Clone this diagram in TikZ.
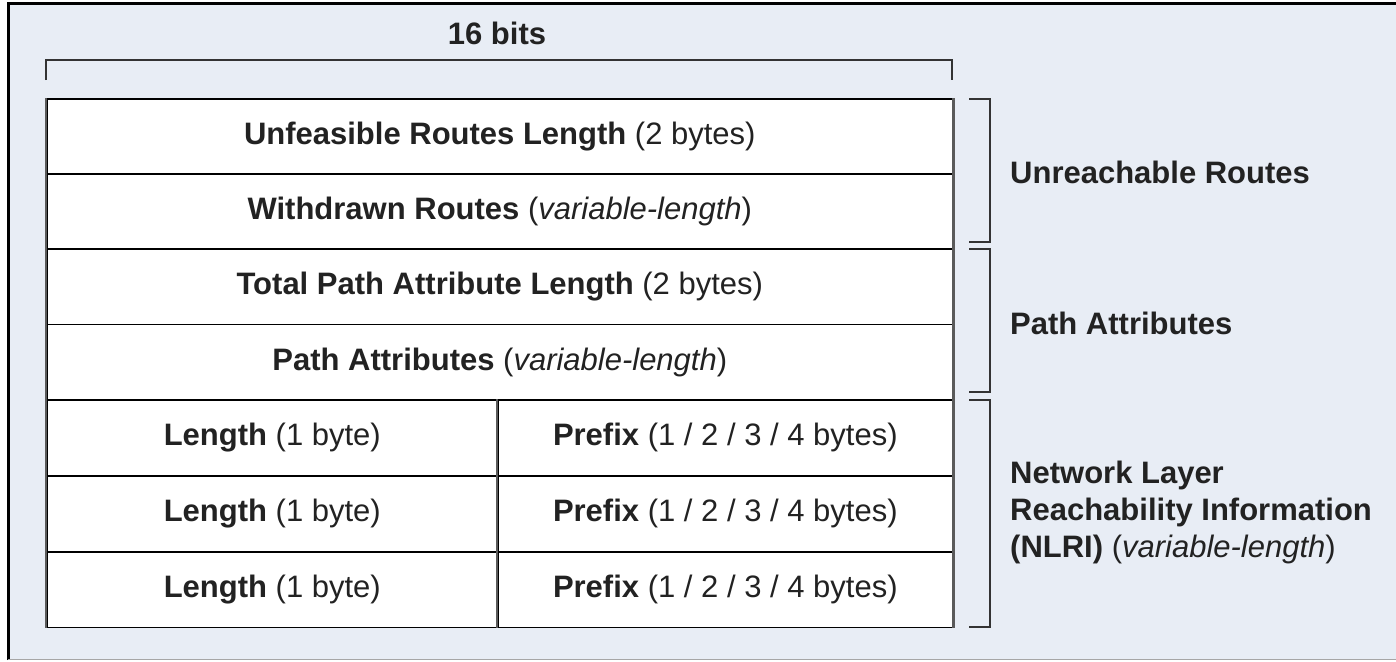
\documentclass[tikz,border=0pt]{standalone}
\usepackage{fontspec}
\setmainfont{Liberation Sans}
\definecolor{bgc}{RGB}{232,237,245}
\definecolor{txt}{RGB}{34,34,34}
\definecolor{vline}{RGB}{90,90,90}
\begin{document}
\begin{tikzpicture}[x=1pt,y=-1pt,
  every node/.style={font=\fontsize{31}{37}\selectfont, text=txt},
  cell/.style={draw=black, line width=1.6pt, fill=white, minimum height=75.5pt, inner sep=0pt, anchor=north west},
  wide/.style={cell, minimum width=906pt},
  halfl/.style={cell, minimum width=451pt},
  halfr/.style={cell, minimum width=455pt},
  brk/.style={draw=black!80, line width=2pt},
  lbl/.style={anchor=west, align=left, inner sep=0pt}]
\useasboundingbox (0,0) rectangle (1396,661);
\fill[bgc] (8,4) rectangle (1396,659);
\draw[black, line width=3pt] (8,660) -- (8,4) -- (1396,4);
\draw[gray!70, line width=1pt] (8,659) -- (1396,659);
% title
\node (title) at (497,33) {\textbf{16 bits}};
\coordinate (tl) at (46,80);
\coordinate (tr) at (952,80);
\draw[brk] (tl) -- ++(0,-20) -| (tr);
% rows
\node[wide] (r1) at (46,98) {\textbf{Unfeasible Routes Length} (2 bytes)};
\node[wide] (r2) at (46,173) {\textbf{Withdrawn Routes} (\textit{variable-length})};
\node[wide] (r3) at (46,248) {\textbf{Total Path Attribute Length} (2 bytes)};
\node[wide] (r4) at (46,323.5) {\textbf{Path Attributes} (\textit{variable-length})};
\node[halfl] (l1) at (46,399) {\textbf{Length} (1 byte)};
\node[halfr] (p1) at (497,399) {\textbf{Prefix} (1 / 2 / 3 / 4 bytes)};
\node[halfl] (l2) at (46,475) {\textbf{Length} (1 byte)};
\node[halfr] (p2) at (497,475) {\textbf{Prefix} (1 / 2 / 3 / 4 bytes)};
\node[halfl] (l3) at (46,551) {\textbf{Length} (1 byte)};
\node[halfr] (p3) at (497,551) {\textbf{Prefix} (1 / 2 / 3 / 4 bytes)};
% vertical lines in gray
\draw[vline, line width=2.6pt] (r1.north west) -- (l3.south west);
\draw[vline, line width=2.6pt] (r1.north east) -- (p3.south east);
\draw[vline, line width=2.6pt] (p1.north west) -- (p3.south west);
% right brackets
\coordinate (b1t) at (969,99);
\coordinate (b1b) at (969,242);
\coordinate (b2t) at (969,249);
\coordinate (b2b) at (969,392);
\coordinate (b3t) at (969,400);
\coordinate (b3b) at (969,627);
\draw[brk] (b1t) -- ++(21,0) |- (b1b);
\draw[brk] (b2t) -- ++(21,0) |- (b2b);
\draw[brk] (b3t) -- ++(21,0) |- (b3b);
% labels
\node[lbl] (u) at (1010,172) {\textbf{Unreachable Routes}};
\node[lbl] (pa) at (1010,323) {\textbf{Path Attributes}};
\node[lbl] (n) at (1010,512) {\textbf{Network Layer}\\\textbf{Reachability Information}\\\textbf{(NLRI)} (\textit{variable-length})};
\end{tikzpicture}
\end{document}
